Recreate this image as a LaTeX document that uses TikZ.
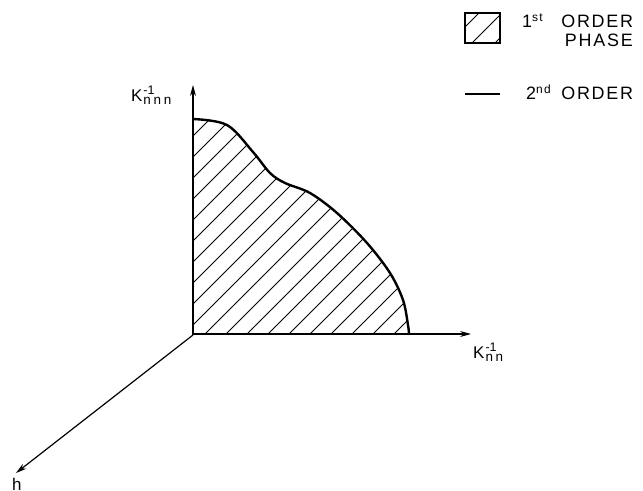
\documentclass[tikz,border=0pt]{standalone}
\usepackage{fontspec}
\setmainfont{Liberation Sans}
\usetikzlibrary{arrows.meta}
\newcommand{\kinvlab}[1]{{\fontsize{17}{17}\selectfont K}\kern1bp\makebox[0pt][l]{\raisebox{7bp}{\fontsize{12.5}{12.5}\selectfont -1}}\raisebox{-3bp}{\fontsize{13.5}{13.5}\selectfont\addfontfeature{LetterSpace=20}#1}}
\newcommand{\legsup}[1]{\raisebox{6.5bp}{\fontsize{12}{12}\selectfont\addfontfeature{LetterSpace=10}#1}}
\tikzset{
  axis/.style={line width=1.2bp, -{Stealth[length=11bp,width=6bp]}},
  boundary/.style={line width=2.4bp, line cap=round},
  hatch/.style={line width=0.9bp},
  lab/.style={inner sep=0pt, font=\fontsize{18}{20}\selectfont\addfontfeature{LetterSpace=10}},
  axlab/.style={inner sep=0pt, anchor=base west}
}
\begin{document}
\begin{tikzpicture}[x=1bp,y=-1bp]
\useasboundingbox (0,0) rectangle (643,491);
\coordinate (O) at (193,335);
\coordinate (ytip) at (193,85);
\coordinate (xtip) at (471,334);
\coordinate (htip) at (16,473);
\coordinate (top) at (193,119);
\coordinate (end) at (409,334);
% hatched region
\begin{scope}
  \clip (193,334) -- (top) -- plot[smooth, tension=0.55] coordinates {(193,119) (227,125) (253,152) (270,173) (285,183) (310,193) (337,213) (367,243) (390,273) (403,300) (408,325) (409,334)} -- cycle;
  \foreach \c in {308,329,...,750} {
    \draw[hatch] (\c-340,340) -- (\c-100,100);
  }
\end{scope}
\draw[boundary] plot[smooth, tension=0.55] coordinates {(193,119) (227,125) (253,152) (270,173) (285,183) (310,193) (337,213) (367,243) (390,273) (403,300) (408,325) (409,334)};
% axes
\draw[axis] (O) -- (ytip);
\draw[axis] (193,334) -- (xtip);
\draw[axis] (O) -- (htip);
\node[axlab] (klab1) at (131,102) {\kinvlab{nnn}};
\node[axlab] (klab2) at (473,358) {\kinvlab{nn}};
\node[axlab, font=\fontsize{17}{17}\selectfont] (hlab) at (12,490.5) {h};
% legend
\node[draw, line width=1.2bp, minimum width=35bp, minimum height=30bp, inner sep=0pt] (legbox) at (482.5,28) {};
\begin{scope}
  \clip (legbox.north west) rectangle (legbox.south east);
  \foreach \c in {492,515,538} {
    \draw[hatch] (\c-50,50) -- (\c-5,5);
  }
\end{scope}
\node[lab, anchor=base west] (l1) at (522,28) {\makebox[111bp][s]{1\legsup{st}\hfill ORDER}};
\node[lab, anchor=base east] (l2) at (633,47) {PHASE};
\coordinate (la) at (465,94);
\coordinate (lb) at (500,94);
\draw[line width=1.6bp] (la) -- (lb);
\node[lab, anchor=base west] (l3) at (526,100) {\makebox[107bp][s]{2\legsup{nd}\hfill ORDER}};
\end{tikzpicture}
\end{document}
